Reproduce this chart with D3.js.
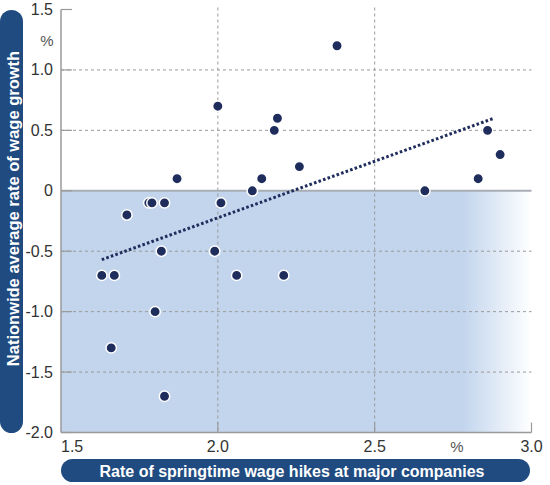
<!DOCTYPE html>
<html>
<head>
<meta charset="utf-8">
<script src="https://cdn.jsdelivr.net/npm/d3@7"></script>
<style>
  body { margin: 0; background: #fff; }
  svg { display: block; }
</style>
</head>
<body>
<svg></svg>
<script>
// data
const hikeRate = [1.63, 1.67, 1.66, 1.80, 1.82, 1.83, 1.99, 2.06, 2.21,
  1.71, 1.78, 1.79, 1.83, 1.87, 2.00, 2.01, 2.11, 2.14, 2.18, 2.19,
  2.38, 2.26, 2.66, 2.83, 2.86, 2.90];
const wageGrowth = [-0.7, -0.7, -1.3, -1.0, -0.5, -1.7, -0.5, -0.7, -0.7,
  -0.2, -0.1, -0.1, -0.1, 0.1, 0.7, -0.1, 0.0, 0.1, 0.5, 0.6,
  1.2, 0.2, 0.0, 0.1, 0.5, 0.3];
const trendX = [1.63, 2.88];
const trendY = [-0.57, 0.60];
const xTicks = [1.5, 2.0, 2.5, 3.0];
const yTicks = [1.5, 1.0, 0.5, 0, -0.5, -1.0, -1.5, -2.0];
const xGrid = [2.0, 2.5];
const yGrid = [1.0, 0.5, -0.5, -1.0, -1.5];
const xTitle = "Rate of springtime wage hikes at major companies";
const yTitle = "Nationwide average rate of wage growth";

const NAVY = '#1f4b80';
const DOT = '#1f2d5c';
const SHADE = '#c2d5ed';
const GRID = '#9a9a9a';
const TICKFONT = '"Liberation Sans Narrow", "Liberation Sans", Arial, sans-serif';

const width = 550, height = 485;
const svg = d3.select("svg").attr("width", width).attr("height", height);

const x = d3.scaleLinear().domain([1.5, 3.0]).range([61, 531.5]);
const y = d3.scaleLinear().domain([-2.0, 1.5]).range([432.5, 9.5]);

// shaded region below zero, fading out on the right
const defs = svg.append("defs");
const grad = defs.append("linearGradient")
  .attr("id", "fade")
  .attr("gradientUnits", "userSpaceOnUse")
  .attr("x1", x(2.78)).attr("x2", x(3.0)).attr("y1", 0).attr("y2", 0);
grad.append("stop").attr("offset", "0").attr("stop-color", SHADE);
grad.append("stop").attr("offset", "1").attr("stop-color", "#ffffff");

svg.append("rect")
  .attr("x", x(1.5))
  .attr("y", y(0))
  .attr("width", x(3.0) - x(1.5))
  .attr("height", y(-2.0) - y(0))
  .attr("fill", "url(#fade)");

// dashed grid
svg.selectAll(".hgrid")
  .data(yGrid)
  .enter().append("line")
  .attr("class", "hgrid")
  .attr("x1", x(1.5)).attr("x2", x(3.0))
  .attr("y1", d => y(d)).attr("y2", d => y(d))
  .attr("stroke", GRID).attr("stroke-width", 1)
  .attr("stroke-dasharray", "3,3");

svg.selectAll(".vgrid")
  .data(xGrid)
  .enter().append("line")
  .attr("class", "vgrid")
  .attr("x1", d => x(d)).attr("x2", d => x(d))
  .attr("y1", y(1.5) - 2).attr("y2", y(-2.0))
  .attr("stroke", GRID).attr("stroke-width", 1)
  .attr("stroke-dasharray", "3,3");

// zero line
svg.append("line")
  .attr("x1", x(1.5)).attr("x2", x(3.0))
  .attr("y1", y(0)).attr("y2", y(0))
  .attr("stroke", "#a8adb4").attr("stroke-width", 2);

// axes lines + ticks
svg.append("line")
  .attr("x1", x(1.5)).attr("x2", x(1.5))
  .attr("y1", y(1.5)).attr("y2", y(-2.0))
  .attr("stroke", GRID).attr("stroke-width", 1.5);
svg.append("line")
  .attr("x1", x(1.5)).attr("x2", x(3.0))
  .attr("y1", y(-2.0)).attr("y2", y(-2.0))
  .attr("stroke", GRID).attr("stroke-width", 1.5);

svg.selectAll(".ytick")
  .data(yTicks)
  .enter().append("line")
  .attr("class", "ytick")
  .attr("x1", x(1.5)).attr("x2", x(1.5) + 11)
  .attr("y1", d => y(d)).attr("y2", d => y(d))
  .attr("stroke", GRID).attr("stroke-width", 1.2);

svg.selectAll(".xtick")
  .data(xTicks.slice(1))
  .enter().append("line")
  .attr("class", "xtick")
  .attr("x1", d => x(d)).attr("x2", d => x(d))
  .attr("y1", y(-2.0)).attr("y2", y(-2.0) - 10)
  .attr("stroke", GRID).attr("stroke-width", 1.2);

// tick labels
svg.selectAll(".ylabel")
  .data(yTicks)
  .enter().append("text")
  .attr("class", "ylabel")
  .attr("x", 53)
  .attr("y", d => y(d) + 5.5)
  .attr("text-anchor", "end")
  .attr("font-family", TICKFONT)
  .attr("font-size", 16)
  .attr("fill", "#333")
  .text(d => d === 0 ? "0" : d.toFixed(1));

svg.append("text")
  .attr("x", 47).attr("y", 46)
  .attr("text-anchor", "middle")
  .attr("font-family", TICKFONT)
  .attr("font-size", 15)
  .attr("fill", "#555")
  .text("%");

svg.selectAll(".xlabel")
  .data(xTicks)
  .enter().append("text")
  .attr("class", "xlabel")
  .attr("x", d => x(d))
  .attr("y", 452)
  .attr("text-anchor", (d, i) => i === 0 ? "start" : "middle")
  .attr("font-family", TICKFONT)
  .attr("font-size", 16)
  .attr("fill", "#333")
  .text(d => d.toFixed(1));

svg.append("text")
  .attr("x", 457).attr("y", 452)
  .attr("text-anchor", "middle")
  .attr("font-family", TICKFONT)
  .attr("font-size", 15)
  .attr("fill", "#555")
  .text("%");

// trend line
svg.append("line")
  .attr("x1", x(trendX[0])).attr("y1", y(trendY[0]))
  .attr("x2", x(trendX[1])).attr("y2", y(trendY[1]))
  .attr("stroke", DOT).attr("stroke-width", 3)
  .attr("stroke-dasharray", "2.6,2.2");

// points
svg.selectAll(".pt")
  .data(hikeRate.map((v, i) => [v, wageGrowth[i]]))
  .enter().append("circle")
  .attr("class", "pt")
  .attr("cx", d => x(d[0]))
  .attr("cy", d => y(d[1]))
  .attr("r", 5.2)
  .attr("fill", DOT)
  .attr("stroke", "#fff")
  .attr("stroke-width", 1.5);

// axis title pills
svg.append("rect")
  .attr("x", 0).attr("y", 10)
  .attr("width", 23).attr("height", 423)
  .attr("rx", 11.5).attr("ry", 11.5)
  .attr("fill", NAVY);
svg.append("text")
  .attr("transform", "translate(18.5,208.5) rotate(-90)")
  .attr("text-anchor", "middle")
  .attr("font-family", "Liberation Sans, Arial, sans-serif")
  .attr("font-weight", "bold")
  .attr("font-size", 16.5)
  .attr("fill", "#fff")
  .text(yTitle);

svg.append("rect")
  .attr("x", 61).attr("y", 459)
  .attr("width", 469).attr("height", 23)
  .attr("rx", 11.5).attr("ry", 11.5)
  .attr("fill", NAVY);
svg.append("text")
  .attr("x", 292).attr("y", 476.5)
  .attr("text-anchor", "middle")
  .attr("font-family", "Liberation Sans, Arial, sans-serif")
  .attr("font-weight", "bold")
  .attr("font-size", 16)
  .attr("fill", "#fff")
  .text(xTitle);
</script>
</body>
</html>
